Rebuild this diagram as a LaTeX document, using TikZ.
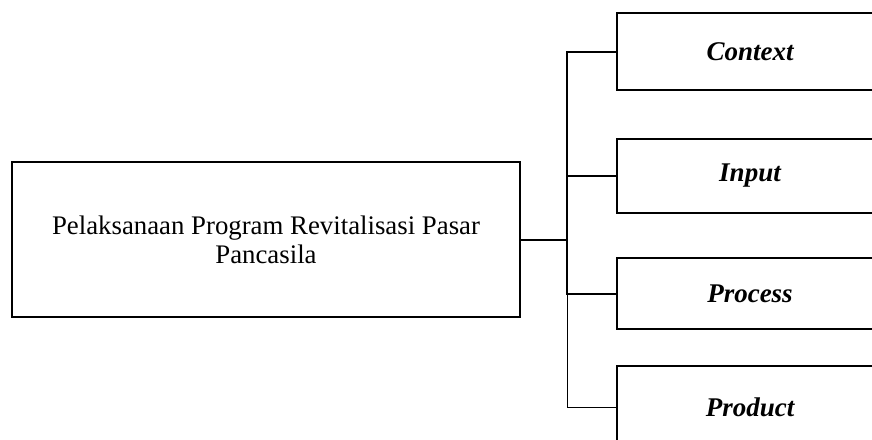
\documentclass[tikz,border=0pt]{standalone}
\usepackage{fontspec}
\setmainfont{Liberation Serif}
\usepackage{tikz}
\usetikzlibrary{positioning}

\begin{document}
\begin{tikzpicture}[
x=0.5pt,y=-0.5pt,
mainbox/.style={
rectangle,draw,line width=1pt,
align=center,
minimum width=254pt,
minimum height=77.5pt,
font=\fontsize{13.4}{14.5}\selectfont
},
partbox/.style={
rectangle,draw,line width=1pt,
align=center,
minimum width=133pt,
font=\fontsize{13.5}{16}\selectfont\bfseries\itshape
},
link/.style={line width=1pt},
thinlink/.style={line width=0.5pt}
]
\useasboundingbox (0,0) rectangle (872,439);
\clip (0,0) rectangle (872,439);

\node[mainbox] (main) at (266,239.5) {Pelaksanaan Program Revitalisasi Pasar\\Pancasila};

\node[partbox,minimum height=38.5pt] (context) at (750,51.5) {Context};
\node[partbox,minimum height=37pt] (input) at (750,176) {Input};
\node[partbox,minimum height=35.5pt] (process) at (750,293.5) {Process};
\node[partbox,minimum height=41pt] (product) at (750,407) {Product};

\coordinate (hub) at (567,239.5);

\draw[link] (main.east) -- (hub);
\draw[link] (context.west) -| (hub);
\draw[link] (input.west) -| (hub);
\draw[link] (process.west) -| (hub);
\draw[thinlink] (product.west) -| (hub);

\end{tikzpicture}
\end{document}
